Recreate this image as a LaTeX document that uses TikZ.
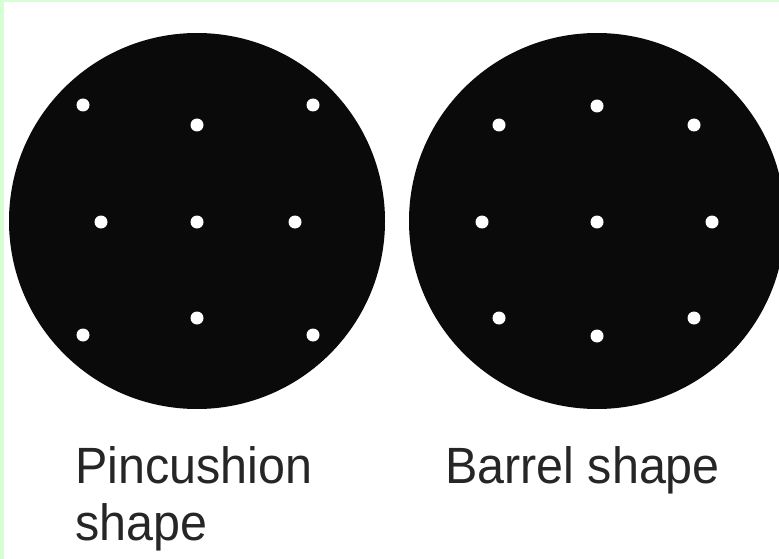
\documentclass[tikz,border=0pt]{standalone}
\usepackage{fontspec}
\setmainfont{Liberation Sans}[FakeStretch=0.95]
\definecolor{edge}{RGB}{214,255,214}
\definecolor{disc}{RGB}{10,10,10}

\begin{document}
\begin{tikzpicture}[
  x=1pt, y=-1pt,
  lens/.style={fill=disc},
  spot/.style={fill=white},
  caption/.style={anchor=base west, inner sep=0pt, align=left,
                  font=\fontsize{51}{57}\selectfont, text=black!85},
]
\useasboundingbox (0,0) rectangle (779,559);
\clip (0,0) rectangle (779,559);

%% ---- frame ----
\fill[edge] (0,0) rectangle (779,559);
\fill[white] (4,2) rectangle (779,559);

%% =========================================================
%% Left disc --- pincushion grid
%% =========================================================
\fill[lens] (197,221) circle (188);
\foreach \px/\py in {83/105, 197/125, 313/105,
                     101/222, 197/222, 295/222,
                     83/335, 197/318, 313/335}
  \fill[spot] (\px,\py) circle (6.5);

%% =========================================================
%% Right disc --- barrel grid
%% =========================================================
\fill[lens] (597,221) circle (188);
\foreach \px/\py in {499/125, 597/106, 694/125,
                     482/222, 597/222, 712/222,
                     499/318, 597/336, 694/318}
  \fill[spot] (\px,\py) circle (6.5);

%% ---- captions ----
\node[caption] (pinlbl) at (75,540) {Pincushion\\shape};
\node[caption] (barlbl) at (445,483) {Barrel shape};

\end{tikzpicture}
\end{document}
